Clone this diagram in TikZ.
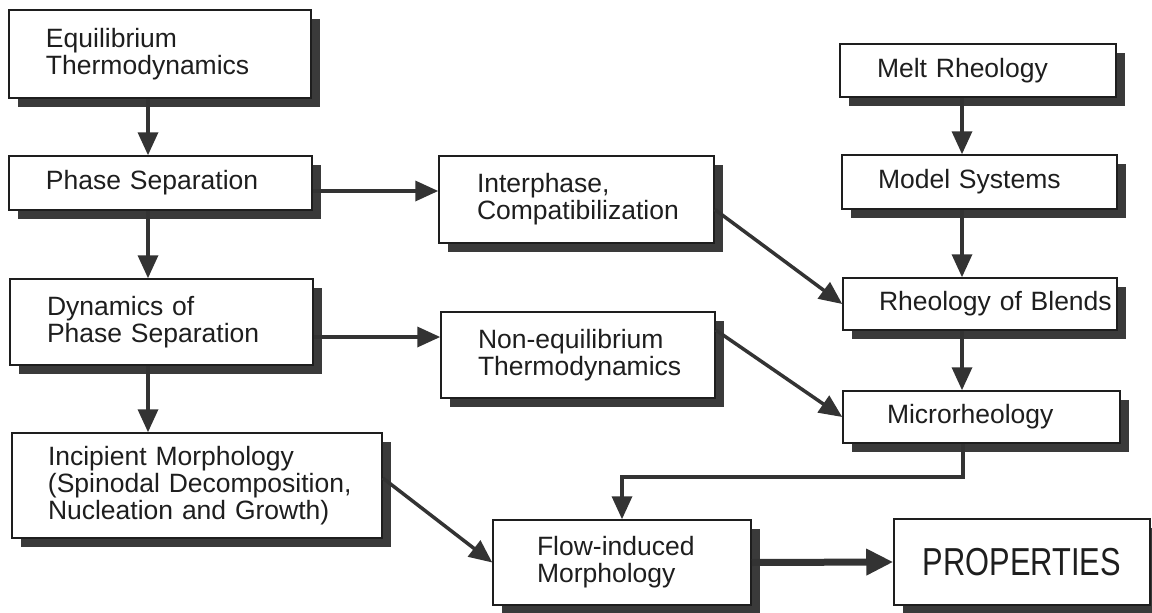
\documentclass[tikz,border=0pt]{standalone}
\usepackage{fontspec}
\setmainfont{Liberation Sans}
\newfontfamily\propfont[FakeStretch=0.79]{Liberation Sans}
\usetikzlibrary{arrows.meta,shadows}
\definecolor{ink}{HTML}{1E1E1E}
\definecolor{shd}{HTML}{3A3A3A}
\definecolor{arw}{HTML}{333333}
\begin{document}
\begin{tikzpicture}[x=1pt,y=-1pt,
  box/.style={draw=ink, line width=1.5pt, fill=white, rectangle, inner sep=0pt, align=left, text=ink,
     font=\fontsize{26.5}{27}\selectfont,
     drop shadow={shadow xshift=9pt, shadow yshift=-9pt, fill=shd, opacity=1}},
  ind/.style={execute at begin node={\leftskip=#1pt\relax\hyphenpenalty=10000\exhyphenpenalty=10000\relax}},
  sz/.style 2 args={text width=#1pt, minimum width=#1pt, minimum height=#2pt},
  arr/.style={draw=arw, line width=3.5pt, -{Triangle[length=23pt,width=20pt]}},
  bigarr/.style={draw=arw, line width=7pt, -{Triangle[length=27pt,width=25pt]}}]
\fill[white] (0,0) rectangle (1152,613);
\useasboundingbox (0,0) rectangle (1152,613);

\node[box, sz={302}{88}, ind=37] (eq) at (160,54) {Equilibrium\\Thermodynamics};
\node[box, sz={303}{54}, ind=37] (phase) at (160.5,183) {Phase Separation};
\node[box, sz={275}{87}, ind=38] (inter) at (576.5,199.5) {Interphase,\\Compatibilization};
\node[box, sz={303}{86}, ind=37] (dyn) at (161.5,322) {Dynamics of\\Phase Separation};
\node[box, sz={274}{86}, ind=37] (noneq) at (578,355) {Non-equilibrium\\Thermodynamics};
\node[box, sz={370}{105}, ind=36] (inc) at (197,485.5) {Incipient Morphology\\(Spinodal Decomposition,\\Nucleation and Growth)};
\node[box, sz={276}{53}, ind=37] (melt) at (978,70.5) {Melt Rheology};
\node[box, sz={275}{54}, ind=36] (model) at (979.5,182) {Model Systems};
\node[box, sz={274}{52}, ind=36] (rheo) at (980,304) {Rheology of Blends};
\node[box, sz={277}{52}, ind=44] (micro) at (981.5,417) {Microrheology};
\node[box, sz={258}{85}, ind=44] (flow) at (622,562.5) {Flow-induced\\Morphology};
\node[box, sz={256}{86}, align=center, font=\propfont\fontsize{39}{39}\selectfont] (props) at (1022,562) {PROPERTIES};

\draw[arr] ([xshift=-12pt]eq.south) -- ([xshift=-12pt]eq.south |- phase.north);
\draw[arr] ([xshift=-12.5pt]phase.south) -- ([xshift=-12.5pt]phase.south |- dyn.north);
\draw[arr] ([xshift=-13.5pt]dyn.south) -- ([xshift=-13.5pt]dyn.south |- inc.north);
\draw[arr] ([yshift=-8pt]phase.east) -- ([yshift=-8pt]phase.east -| inter.west);
\draw[arr] ([yshift=-15pt]dyn.east) -- ([yshift=-15pt]dyn.east -| noneq.west);
\draw[arr] ([yshift=-10pt]inter.east) -- (rheo.west);
\draw[arr] ([yshift=25pt]noneq.east) -- (micro.west);
\draw[arr] ([yshift=7.5pt]inc.east) -- (flow.west);
\draw[arr] ([xshift=-16pt]melt.south) -- ([xshift=-16pt]melt.south |- model.north);
\draw[arr] ([xshift=-17.5pt]model.south) -- ([xshift=-17.5pt]model.south |- rheo.north);
\draw[arr] ([xshift=-18pt]rheo.south) -- ([xshift=-18pt]rheo.south |- micro.north);
\draw[arr] ([xshift=-18.5pt]micro.south) -- ++(0,33) -| (flow.north);
\draw[bigarr] (flow.east) -- (props.west);
\end{tikzpicture}
\end{document}
